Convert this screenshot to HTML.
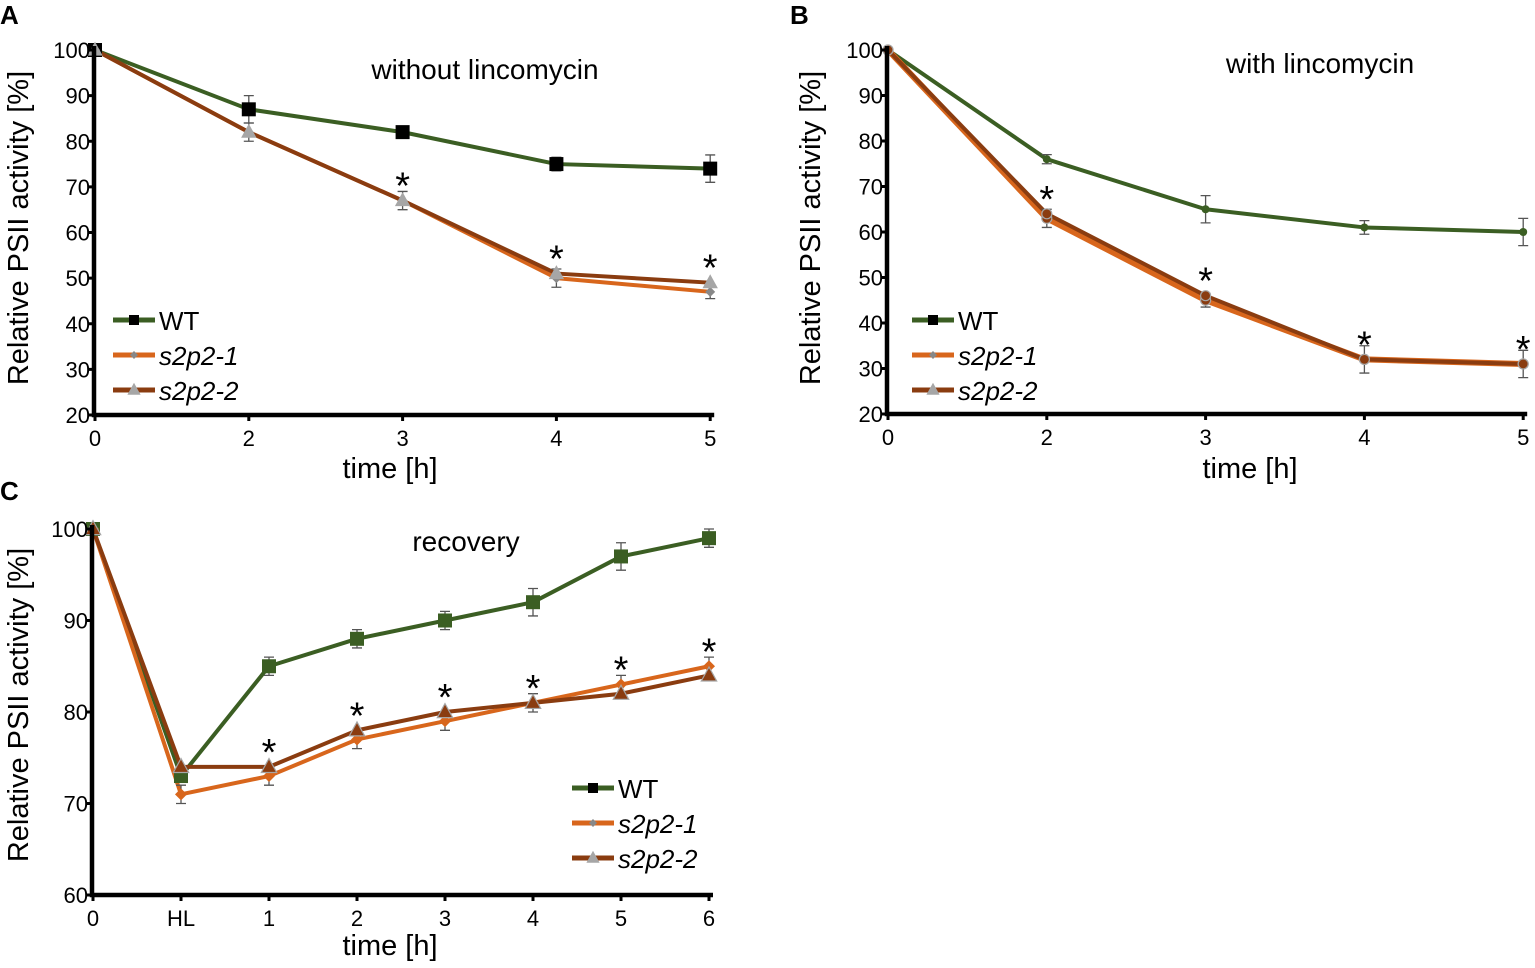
<!DOCTYPE html>
<html><head><meta charset="utf-8">
<style>
html,body{margin:0;padding:0;background:#fff;}
svg{display:block;font-family:"Liberation Sans",Arial,sans-serif;}
</style></head>
<body>
<svg id="fig" width="1535" height="968" viewBox="0 0 1535 968"></svg>
<script>
// ---- Panel A data ----
const catsA = ["0","2","3","4","5"];
const wtA = [100,87,82,75,74];
const s1A = [100,82,67,50,47];
const s2A = [100,82,67,51,49];
const errWtA = [0,3,1,1.5,3];
const errS1A = [0,2,2,2,1.5];
const starsA = [false,false,true,true,true];
const yTicksA = [20,30,40,50,60,70,80,90,100];
// ---- Panel B data ----
const catsB = ["0","2","3","4","5"];
const wtB = [100,76,65,61,60];
const s1B = [100,63,45,32,31];
const s2B = [100,64,46,32,31];
const errWtB = [0,1,3,1.5,3];
const errS1B = [0,2,1.5,3,3];
const starsB = [false,true,true,true,true];
const yTicksB = [20,30,40,50,60,70,80,90,100];
// ---- Panel C data ----
const catsC = ["0","HL","1","2","3","4","5","6"];
const wtC = [100,73,85,88,90,92,97,99];
const s1C = [100,71,73,77,79,81,83,85];
const s2C = [100,74,74,78,80,81,82,84];
const errWtC = [0,0.5,1,1,1,1.5,1.5,1];
const errS1C = [0,1,1,1,1,1,1,1];
const starsC = [false,false,true,true,true,true,true,true];
const yTicksC = [60,70,80,90,100];

const NS="http://www.w3.org/2000/svg";
const svg=document.getElementById('fig');
function mk(tag,attrs,parent,name,inter){
  const e=document.createElementNS(NS,tag);
  for(const k in attrs)e.setAttribute(k,attrs[k]);
  
  
  (parent||svg).appendChild(e);return e;
}
const GREEN="#3b5e23",ORANGE="#d8661c",BROWN="#8a3c10",GRAY="#a6a6a6";

function marker(g,type,x,y,fill,stroke,s,name){
  if(type==="square") mk('rect',{x:x-s,y:y-s,width:2*s,height:2*s,fill:fill,stroke:stroke||'none'},g,name);
  else if(type==="tri") mk('polygon',{points:`${x},${y-s*1.2} ${x-s*1.1},${y+s*0.8} ${x+s*1.1},${y+s*0.8}`,fill:fill,stroke:stroke||'none','stroke-width':1.2},g,name);
  else if(type==="diamond") mk('polygon',{points:`${x},${y-s} ${x+s},${y} ${x},${y+s} ${x-s},${y}`,fill:fill,stroke:stroke||'none'},g,name);
  else mk('circle',{cx:x,cy:y,r:s,fill:fill,stroke:stroke||'none','stroke-width':1.2},g,name);
}

function panel(o){
  const g=mk('g',{},svg,o.id);
  const X=i=>o.x0+i*o.dx;
  const Y=v=>o.yBot-(v-o.ymin)*(o.yBot-o.yTop)/(o.ymax-o.ymin);
  o.series.forEach(s=>{
    const pts=s.vals.map((v,i)=>X(i)+","+Y(v)).join(" ");
    mk('polyline',{points:pts,fill:'none',stroke:s.color,'stroke-width':s.w||4,'stroke-linejoin':'round'},g,s.name+'-line');
  });
  o.errs.forEach(e=>{
    e.vals.forEach((v,i)=>{
      const er=e.err[i]; if(!er)return;
      const x=X(i),y1=Y(v+er),y2=Y(v-er);
      mk('path',{d:`M${x},${y1}V${y2}M${x-5},${y1}H${x+5}M${x-5},${y2}H${x+5}`,stroke:'#555','stroke-width':1.3,fill:'none'},g,'error-bar');
    });
  });
  o.series.forEach(s=>{
    s.vals.forEach((v,i)=>marker(g,s.m,X(i),Y(v),s.mf,s.ms,s.msz,s.name+'-marker'));
  });
  o.stars.forEach((st,i)=>{
    if(!st)return;
    const mx=Math.max(...o.series.slice(1).map(s=>s.vals[i]));
    const t=mk('text',{x:X(i),y:Y(mx)-o.starOff,'font-size':38,'text-anchor':'middle'},g,'significance-star');t.textContent='*';
  });
  mk('path',{d:`M${o.x0-1},${o.yTop-4}V${o.yBot}H${X(o.cats.length-1)+4}`,stroke:'#000','stroke-width':4.5,fill:'none'},g,'axes');
  o.yticks.forEach(v=>{
    mk('line',{x1:o.x0-7,x2:o.x0,y1:Y(v),y2:Y(v),stroke:'#000','stroke-width':3},g,'y-tick');
    const t=mk('text',{x:o.x0-5,y:Y(v)+8,'font-size':22,'text-anchor':'end'},g,'y-tick-label');t.textContent=v;
  });
  o.cats.forEach((c,i)=>{
    mk('line',{x1:X(i),x2:X(i),y1:o.yBot,y2:o.yBot+6,stroke:'#000','stroke-width':3},g,'x-tick');
    const t=mk('text',{x:X(i),y:o.yBot+31,'font-size':22,'text-anchor':'middle'},g,'x-tick-label');t.textContent=c;
  });
  const yt=mk('text',{x:0,y:0,'font-size':29,'text-anchor':'middle',transform:`translate(${o.yTitleX},${o.yTitleY}) rotate(-90)`},g,'y-axis-title');yt.textContent='Relative PSII activity [%]';
  const xt=mk('text',{x:o.xTitleX,y:o.xTitleY,'font-size':29,'text-anchor':'middle'},g,'x-axis-title');xt.textContent='time [h]';
  const ti=mk('text',{x:o.titleX,y:o.titleY,'font-size':28,'text-anchor':'middle'},g,'panel-title');ti.textContent=o.title;
  const pl=mk('text',{x:o.lblX,y:o.lblY,'font-size':26,'font-weight':'bold'},g,'panel-label');pl.textContent=o.label;
  const lg=mk('g',{},g,'legend');
  o.series.forEach((s,k)=>{
    const ly=o.legY+k*35;
    const le=mk('g',{},lg,'legend-entry');
    mk('line',{x1:o.legX,x2:o.legX+42,y1:ly,y2:ly,stroke:s.color,'stroke-width':5},le,'legend-line');
    marker(le,s.lm,o.legX+21,ly,s.lmf,s.lms,s.lmsz,'legend-marker');
    const t=mk('text',{x:o.legX+46,y:ly+10,'font-size':26,'font-style':k?'italic':'normal'},le,'legend-label');t.textContent=s.label;
  });
}

panel({id:'panel-a',label:'A',lblX:0,lblY:24,title:'without lincomycin',titleX:485,titleY:79,
  x0:95,dx:153.8,yTop:50,yBot:415,ymin:20,ymax:100,cats:catsA,yticks:yTicksA,stars:starsA,starOff:2,
  yTitleX:28,yTitleY:228,xTitleX:390,xTitleY:478,legX:113,legY:320,
  series:[
   {name:'wt',label:'WT',vals:wtA,color:GREEN,m:'square',mf:'#000',msz:7,lm:'square',lmf:'#000',lmsz:5},
   {name:'s2p2-1',label:'s2p2-1',vals:s1A,color:ORANGE,m:'diamond',mf:'#888',msz:5,lm:'diamond',lmf:'#888',lmsz:4},
   {name:'s2p2-2',label:'s2p2-2',vals:s2A,color:BROWN,m:'tri',mf:GRAY,msz:7,lm:'tri',lmf:GRAY,lmsz:6}],
  errs:[{vals:wtA,err:errWtA},{vals:s1A,err:errS1A}]});

panel({id:'panel-b',label:'B',lblX:790,lblY:24,title:'with lincomycin',titleX:1320,titleY:73,
  x0:888,dx:158.8,yTop:50,yBot:414,ymin:20,ymax:100,cats:catsB,yticks:yTicksB,stars:starsB,starOff:2,
  yTitleX:820,yTitleY:228,xTitleX:1250,xTitleY:478,legX:912,legY:320,
  series:[
   {name:'wt',label:'WT',vals:wtB,color:GREEN,m:'circle',mf:GREEN,msz:4,lm:'square',lmf:'#000',lmsz:5},
   {name:'s2p2-1',label:'s2p2-1',vals:s1B,color:ORANGE,m:'circle',mf:BROWN,ms:GRAY,msz:5,w:6,lm:'diamond',lmf:'#888',lmsz:4},
   {name:'s2p2-2',label:'s2p2-2',vals:s2B,color:BROWN,m:'circle',mf:BROWN,ms:GRAY,msz:5,lm:'tri',lmf:GRAY,lmsz:6}],
  errs:[{vals:wtB,err:errWtB},{vals:s1B,err:errS1B}]});

panel({id:'panel-c',label:'C',lblX:0,lblY:500,title:'recovery',titleX:466,titleY:551,
  x0:93,dx:88,yTop:529,yBot:895,ymin:60,ymax:100,cats:catsC,yticks:yTicksC,stars:starsC,starOff:2,
  yTitleX:28,yTitleY:705,xTitleX:390,xTitleY:955,legX:572,legY:788,
  series:[
   {name:'wt',label:'WT',vals:wtC,color:GREEN,m:'square',mf:GREEN,msz:7,lm:'square',lmf:'#000',lmsz:5},
   {name:'s2p2-1',label:'s2p2-1',vals:s1C,color:ORANGE,m:'diamond',mf:ORANGE,msz:6,lm:'diamond',lmf:'#888',lmsz:4},
   {name:'s2p2-2',label:'s2p2-2',vals:s2C,color:BROWN,m:'tri',mf:BROWN,ms:GRAY,msz:7,lm:'tri',lmf:GRAY,lmsz:6}],
  errs:[{vals:wtC,err:errWtC},{vals:s1C,err:errS1C}]});
</script>
</body></html>
